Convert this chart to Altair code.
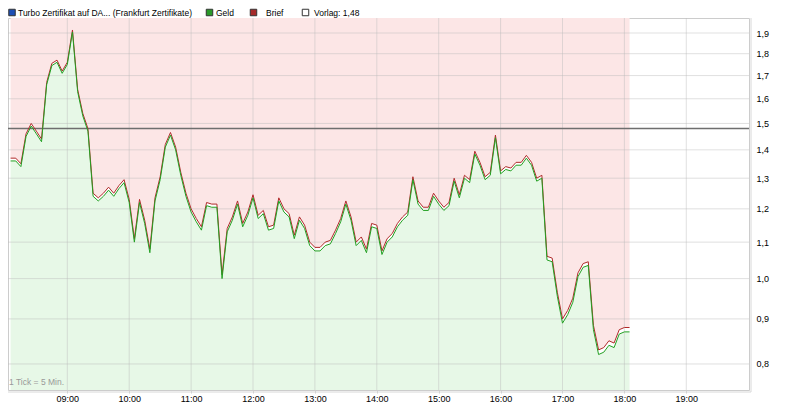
import altair as alt
import pandas as pd

# ---- data ----
start_minute = 8 * 60 + 5          # 08:05, one point every 5 minutes
step_minutes = 5
geld = [1.36, 1.36, 1.34, 1.45, 1.49, 1.46, 1.43, 1.66, 1.745, 1.76,
        1.71, 1.75, 1.905, 1.63, 1.53, 1.47, 1.24, 1.225, 1.24, 1.26,
        1.24, 1.265, 1.285, 1.22, 1.10, 1.22, 1.155, 1.07, 1.225, 1.295,
        1.41, 1.455, 1.40, 1.31, 1.24, 1.19, 1.16, 1.135, 1.21, 1.205,
        1.205, 1.00, 1.13, 1.165, 1.215, 1.145, 1.18, 1.235, 1.17, 1.185,
        1.135, 1.14, 1.225, 1.19, 1.175, 1.11, 1.165, 1.14, 1.09, 1.075,
        1.075, 1.09, 1.095, 1.125, 1.16, 1.215, 1.165, 1.09, 1.105, 1.07,
        1.145, 1.14, 1.065, 1.10, 1.115, 1.145, 1.165, 1.18, 1.295, 1.215,
        1.195, 1.195, 1.24, 1.215, 1.195, 1.21, 1.29, 1.235, 1.30, 1.285,
        1.385, 1.345, 1.295, 1.31, 1.445, 1.315, 1.33, 1.325, 1.345, 1.345,
        1.37, 1.345, 1.29, 1.30, 1.05, 1.045, 0.955, 0.89, 0.91, 0.94,
        1.005, 1.03, 1.035, 0.875, 0.82, 0.825, 0.84, 0.835, 0.865, 0.87,
        0.87]
brief = [1.37, 1.37, 1.35, 1.46, 1.50, 1.47, 1.44, 1.67, 1.755, 1.77,
         1.72, 1.76, 1.915, 1.64, 1.54, 1.48, 1.25, 1.235, 1.25, 1.27,
         1.25, 1.275, 1.295, 1.23, 1.11, 1.23, 1.165, 1.08, 1.235, 1.305,
         1.42, 1.465, 1.41, 1.32, 1.25, 1.20, 1.17, 1.145, 1.22, 1.215,
         1.215, 1.01, 1.14, 1.175, 1.225, 1.155, 1.19, 1.245, 1.18, 1.195,
         1.145, 1.15, 1.235, 1.20, 1.185, 1.12, 1.175, 1.15, 1.10, 1.085,
         1.085, 1.10, 1.105, 1.135, 1.17, 1.225, 1.175, 1.10, 1.115, 1.08,
         1.155, 1.15, 1.075, 1.11, 1.125, 1.155, 1.175, 1.19, 1.305, 1.225,
         1.205, 1.205, 1.25, 1.225, 1.205, 1.22, 1.30, 1.245, 1.31, 1.295,
         1.395, 1.355, 1.305, 1.32, 1.455, 1.325, 1.34, 1.335, 1.355, 1.355,
         1.38, 1.355, 1.30, 1.31, 1.06, 1.055, 0.965, 0.90, 0.92, 0.95,
         1.015, 1.04, 1.045, 0.885, 0.83, 0.835, 0.85, 0.845, 0.875, 0.88,
         0.88]
vorlag = 1.48
y_ticks = [0.8, 0.9, 1.0, 1.1, 1.2, 1.3, 1.4, 1.5, 1.6, 1.7, 1.8, 1.9]
x_tick_minutes = [540, 600, 660, 720, 780, 840, 900, 960, 1020, 1080, 1140]
x_tick_labels = ["09:00", "10:00", "11:00", "12:00", "13:00", "14:00",
                 "15:00", "16:00", "17:00", "18:00", "19:00"]
legend_labels = ["Turbo Zertifikat auf DA... (Frankfurt Zertifikate)", "Geld",
                 "Brief", "Vorlag: 1,48"]
legend_colors = ["#1f4fb4", "#2a9a2a", "#a52a2a", "#ffffff"]

minutes = [start_minute + step_minutes * i for i in range(len(geld))]
df = pd.DataFrame({"t": minutes, "geld": geld, "brief": brief})

W, H = 741, 372
Y_MIN, Y_MAX = 0.7474, 1.976
X_MIN, X_MAX = 482.5, 1200.8
FONT = "Liberation Sans"

xs = alt.Scale(domain=[X_MIN, X_MAX], nice=False, zero=False)
ys = alt.Scale(type="log", domain=[Y_MIN, Y_MAX], nice=False, zero=False)

label_expr = "[" + ",".join(f"'{l}'" for l in x_tick_labels) + "][round((datum.value-540)/60)]"

base = alt.Chart(df)

pink = base.mark_area(color="#fce6e6", interpolate="linear").encode(
    x=alt.X("t:Q", scale=xs, axis=alt.Axis(values=x_tick_minutes, labelExpr=label_expr,
                                            grid=False, domain=False, ticks=True,
                                            tickSize=3, tickColor="#cccccc",
                                            labelFont=FONT, labelFontSize=9,
                                            labelColor="#000000", labelPadding=1,
                                            title=None)),
    y=alt.Y("brief:Q", scale=ys, axis=alt.Axis(orient="right", values=y_ticks,
                                               labelExpr="replace(format(datum.value, '.1f'), '.', ',')",
                                               grid=False, domain=False, ticks=False,
                                               labelFont=FONT, labelFontSize=9,
                                               labelColor="#000000", labelPadding=7,
                                               title=None)),
    y2=alt.Y2(datum=Y_MAX),
)
green = base.mark_area(color="#e7f8e7").encode(
    x=alt.X("t:Q", scale=xs),
    y=alt.Y("geld:Q", scale=ys),
    y2=alt.Y2(datum=Y_MIN),
)

hgrid = alt.Chart(pd.DataFrame({"v": y_ticks})).mark_rule(color="#bbbbbb", opacity=0.45).encode(
    y=alt.Y("v:Q", scale=ys), x=alt.value(0), x2=alt.value(W))
vgrid = alt.Chart(pd.DataFrame({"m": x_tick_minutes})).mark_rule(color="#bbbbbb", opacity=0.45).encode(
    x=alt.X("m:Q", scale=xs), y=alt.value(0), y2=alt.value(H))

vorlag_rule = alt.Chart(pd.DataFrame({"v": [vorlag]})).mark_rule(color="#6e6e6e", strokeWidth=1.5).encode(
    y=alt.Y("v:Q", scale=ys), x=alt.value(0), x2=alt.value(W))

brief_line = base.mark_line(color="#b02a2a", strokeWidth=1).encode(
    x=alt.X("t:Q", scale=xs), y=alt.Y("brief:Q", scale=ys))
geld_line = base.mark_line(color="#22a022", strokeWidth=1).encode(
    x=alt.X("t:Q", scale=xs), y=alt.Y("geld:Q", scale=ys))

frame_right = alt.Chart(pd.DataFrame({"a": [0]})).mark_rule(color="#d8d8d8").encode(
    x=alt.value(W + 2), y=alt.value(0), y2=alt.value(H + 2))
frame_bottom = alt.Chart(pd.DataFrame({"a": [0]})).mark_rule(color="#d8d8d8").encode(
    y=alt.value(H + 2), x=alt.value(0), x2=alt.value(W + 2))

tick_note = alt.Chart(pd.DataFrame({"s": ["1 Tick = 5 Min."]})).mark_text(
    align="left", baseline="middle", font=FONT, fontSize=8.5, color="#999999").encode(
    text="s:N", x=alt.value(1), y=alt.value(H - 8))

# legend across the top
sq_x = [4, 201.5, 245.5, 297.5]
tx_x = [10, 208, 258, 306]
leg_y = -5.5
legend_layers = []
for lab, col, sx, tx in zip(legend_labels, legend_colors, sq_x, tx_x):
    d = pd.DataFrame({"lab": [lab]})
    legend_layers.append(alt.Chart(d).mark_square(size=42, color=col, opacity=1,
                                                  stroke="#333333", strokeWidth=1, filled=True).encode(
        x=alt.value(sx), y=alt.value(leg_y)))
    legend_layers.append(alt.Chart(d).mark_text(align="left", baseline="middle", font=FONT,
                                                fontSize=8.5, color="#000000").encode(
        text="lab:N", x=alt.value(tx), y=alt.value(leg_y)))

chart = alt.layer(pink, green, hgrid, vgrid, vorlag_rule, brief_line, geld_line,
                  frame_right, frame_bottom, tick_note, *legend_layers).properties(
    width=W, height=H,
    autosize=alt.AutoSizeParams(type="none"),
    padding={"left": 0, "top": 10, "right": 35, "bottom": 13},
    background="#ffffff",
).configure_view(stroke="#cccccc")

chart.save("out.html", embed_options={"renderer": "svg", "actions": False})
